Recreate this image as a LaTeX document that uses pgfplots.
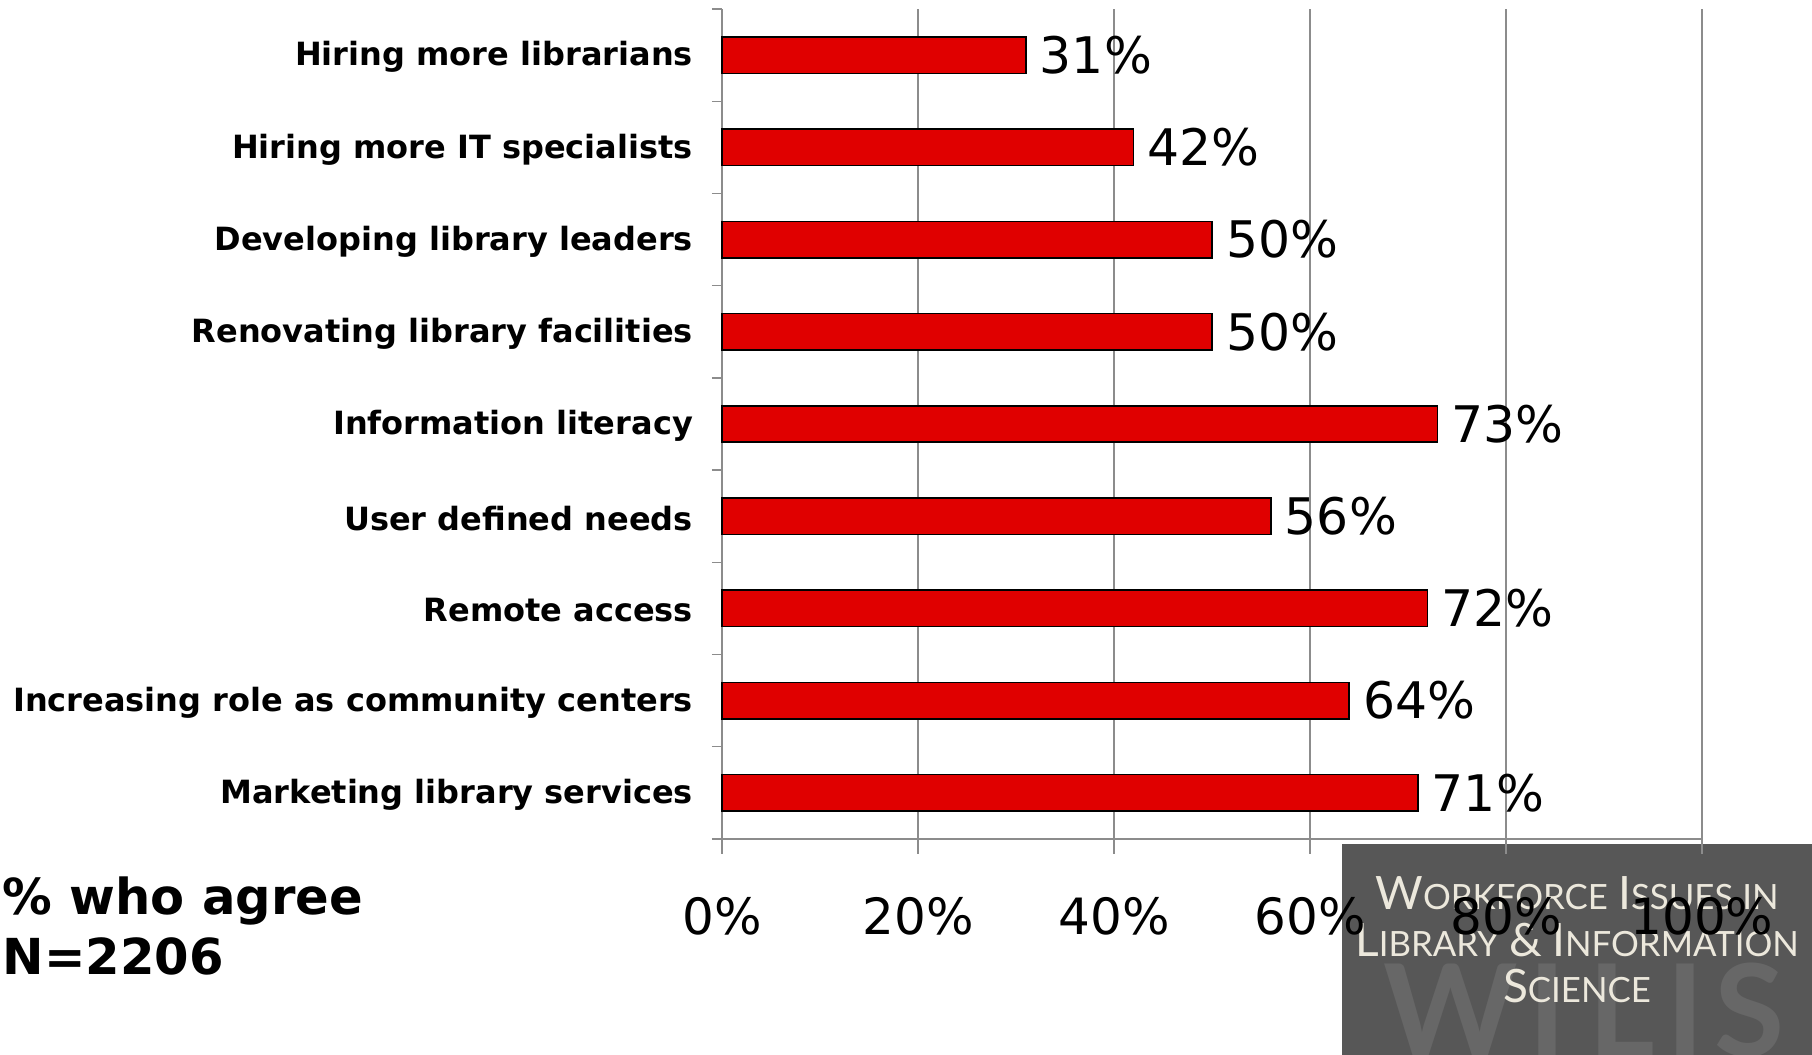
\documentclass[border=0pt]{standalone}
\usepackage{pgfplots}
\pgfplotsset{compat=1.18}
\usepackage{fontspec}
\setmainfont{DejaVu Sans}
\newfontfamily\logofont{Lato}
\definecolor{barred}{HTML}{E00000}
\definecolor{gridgray}{HTML}{8C8C8C}
\definecolor{logobg}{HTML}{575757}
\definecolor{logowilis}{HTML}{676767}
\definecolor{logotext}{HTML}{ECE8DC}
\newcommand\LB[1]{{\fontsize{11.5}{12}\selectfont #1}}
\newcommand\LS[1]{{\fontsize{8.7}{9}\selectfont #1}}
\begin{document}
\begin{tikzpicture}
\useasboundingbox (0,0) rectangle (453pt,263.75pt);
% logo
\fill[logobg] (335.5pt,0) rectangle (453pt,52.75pt);
\begin{scope}
\clip (335.5pt,0) rectangle (453pt,52.75pt);
\tikzset{wl/.style={inner sep=0pt, text=logowilis, font=\logofont\bfseries\fontsize{32}{32}\selectfont}}
\node[wl, anchor=base] at (362.75pt,-0.3pt) {W};
\node[wl, anchor=base] at (386.75pt,-0.3pt) {I};
\node[wl, anchor=base west] at (397pt,-0.3pt) {L};
\node[wl, anchor=base] at (421.25pt,-0.3pt) {I};
\node[wl, anchor=base] at (437.5pt,-0.3pt) {S};
\end{scope}
\node[anchor=base, inner sep=0pt, text=logotext, font=\logofont] at (394.25pt,36.25pt) {\LB{W}\LS{ORKFORCE} \LB{I}\LS{SSUES IN}};
\node[anchor=base, inner sep=0pt, text=logotext, font=\logofont] at (394.25pt,24.5pt) {\LB{L}\LS{IBRARY} \LB{\&} \LB{I}\LS{NFORMATION}};
\node[anchor=base, inner sep=0pt, text=logotext, font=\logofont] at (394.25pt,13pt) {\LB{S}\LS{CIENCE}};
% note
\node[anchor=base west, inner sep=0pt, font=\bfseries\fontsize{12.4}{12}\selectfont] at (0.5pt,35pt) {\% who agree};
\node[anchor=base west, inner sep=0pt, font=\bfseries\fontsize{12.4}{12}\selectfont] at (0.5pt,20pt) {N=2206};
\begin{axis}[
  at={(180.5pt,54pt)}, anchor=south west,
  scale only axis, width=245pt, height=207.5pt,
  xbar, bar width=9.1pt,
  xmin=0, xmax=100, ymin=0.5, ymax=9.5,
  axis x line*=bottom, axis y line*=left,
  axis line style={gridgray, line width=0.35pt},
  xtick={0,20,40,60,80,100},
  xticklabels={0\%,20\%,40\%,60\%,80\%,100\%},
  xmajorgrids, grid style={gridgray, line width=0.35pt},
  ytick={1,2,3,4,5,6,7,8,9},
  yticklabels={Marketing library services, Increasing role as community centers, Remote access, User defined needs, Information literacy, Renovating library facilities, Developing library leaders, Hiring more IT specialists, Hiring more librarians},
  minor ytick={0.5,1.5,2.5,3.5,4.5,5.5,6.5,7.5,8.5,9.5},
  tick align=outside, major tick length=3.75pt, minor tick length=2.5pt,
  major y tick style={draw=none},
  tick style={gridgray, line width=0.35pt},
  xticklabel style={font=\fontsize{12.5}{12}\selectfont, anchor=center, yshift=-15.5pt},
  yticklabel style={font=\bfseries\fontsize{8}{9}\selectfont, yshift=-0.5pt},
  nodes near coords={\pgfplotspointmeta\%},
  point meta=explicit symbolic,
  every node near coord/.append style={font=\fontsize{12.6}{12}\selectfont, anchor=west, text=black},
  clip=false,
]
\addplot[fill=barred, draw=black, line width=0.4pt] coordinates {
  (71,1) [71]
  (64,2) [64]
  (72,3) [72]
  (56,4) [56]
  (73,5) [73]
  (50,6) [50]
  (50,7) [50]
  (42,8) [42]
  (31,9) [31]
};
\end{axis}
\end{tikzpicture}
\end{document}
